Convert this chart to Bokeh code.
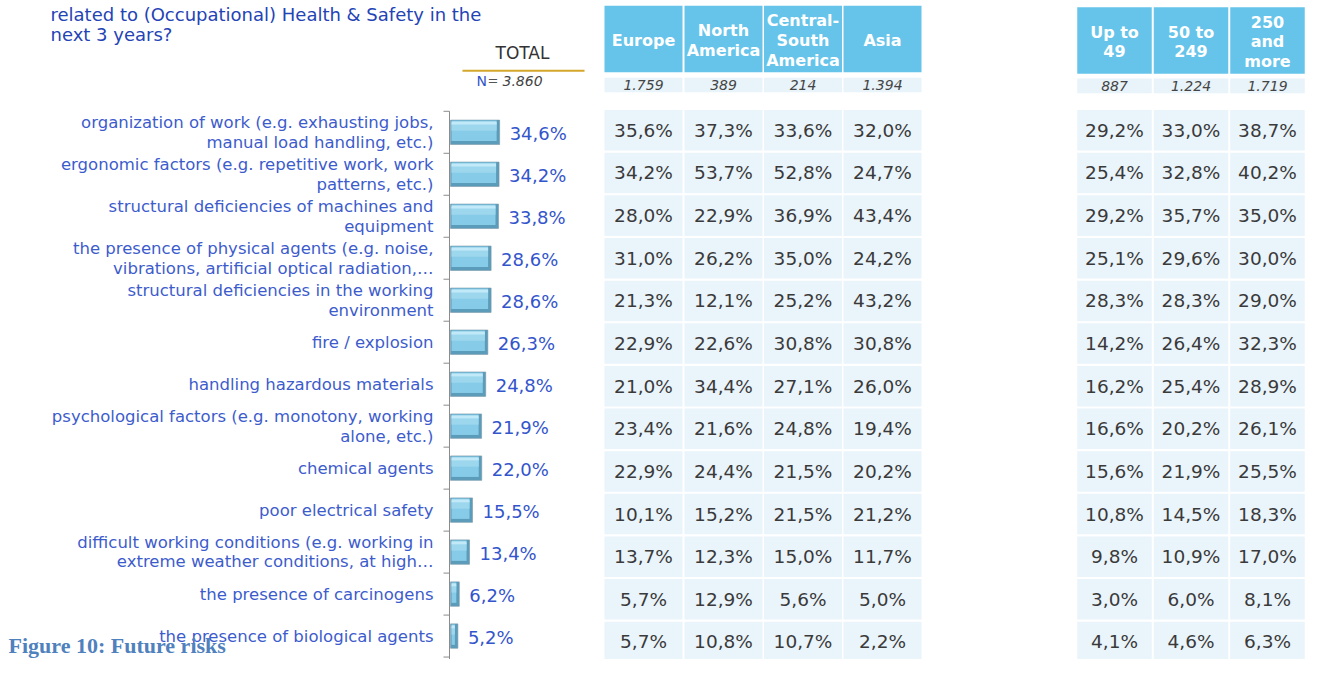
import numpy as np
from bokeh.plotting import figure
from bokeh.models import Range1d, ColumnDataSource
from bokeh.embed import file_html
from bokeh.resources import INLINE
from bokeh.core.properties import value

# ---------------- data ----------------
categories = [
    "organization of work (e.g. exhausting jobs,\nmanual load handling, etc.)",
    "ergonomic factors (e.g. repetitive work, work\npatterns, etc.)",
    "structural deficiencies of machines and\nequipment",
    "the presence of physical agents (e.g. noise,\nvibrations, artificial optical radiation,\u2026",
    "structural deficiencies in the working\nenvironment",
    "fire / explosion",
    "handling hazardous materials",
    "psychological factors (e.g. monotony, working\nalone, etc.)",
    "chemical agents",
    "poor electrical safety",
    "difficult working conditions (e.g. working in\nextreme weather conditions, at high\u2026",
    "the presence of carcinogens",
    "the presence of biological agents",
]
total = [34.6, 34.2, 33.8, 28.6, 28.6, 26.3, 24.8, 21.9, 22.0, 15.5, 13.4, 6.2, 5.2]

europe = [35.6, 34.2, 28.0, 31.0, 21.3, 22.9, 21.0, 23.4, 22.9, 10.1, 13.7, 5.7, 5.7]
north_america = [37.3, 53.7, 22.9, 26.2, 12.1, 22.6, 34.4, 21.6, 24.4, 15.2, 12.3, 12.9, 10.8]
central_south_america = [33.6, 52.8, 36.9, 35.0, 25.2, 30.8, 27.1, 24.8, 21.5, 21.5, 15.0, 5.6, 10.7]
asia = [32.0, 24.7, 43.4, 24.2, 43.2, 30.8, 26.0, 19.4, 20.2, 21.2, 11.7, 5.0, 2.2]

up_to_49 = [29.2, 25.4, 29.2, 25.1, 28.3, 14.2, 16.2, 16.6, 15.6, 10.8, 9.8, 3.0, 4.1]
from_50_to_249 = [33.0, 32.8, 35.7, 29.6, 28.3, 26.4, 25.4, 20.2, 21.9, 14.5, 10.9, 6.0, 4.6]
from_250 = [38.7, 40.2, 35.0, 30.0, 29.0, 32.3, 28.9, 26.1, 25.5, 18.3, 17.0, 8.1, 6.3]

region_headers = ["Europe", "North\nAmerica", "Central-\nSouth\nAmerica", "Asia"]
region_n = ["1.759", "389", "214", "1.394"]
size_headers = ["Up to\n49", "50 to\n249", "250\nand\nmore"]
size_n = ["887", "1.224", "1.719"]
total_n = "3.860"

title_text = "related to (Occupational) Health & Safety in the\nnext 3 years?"
caption_text = "Figure 10: Future risks"


def pct(v):
    return f"{v:.1f}%".replace(".", ",")


# ---------------- layout ----------------
W, H = 1306, 659
FONT = value("DejaVu Sans")
HEAD_BLUE = "#66c4ea"
CELL_BLUE = "#eaf4fb"
TXT_DARK = "#3a3a3a"
LBL_BLUE = "#3d5ccc"
EM = 1.164  # DejaVu line box per em

p = figure(width=W, height=H, x_range=Range1d(0, W), y_range=Range1d(675, 0),
           output_backend="svg", toolbar_location=None, min_border=0,
           x_axis_type=None, y_axis_type=None)
p.grid.visible = False
p.outline_line_color = None
p.background_fill_color = "white"

n = len(categories)
idx = np.arange(n)

# --- bar chart ---
bar_left = 450.0
k = 1.42
bar_pitch = 43.0
bar_y = 135.0 + bar_pitch * idx
tot = np.array(total)
bar_right = bar_left + k * tot

bars = ColumnDataSource(dict(y=bar_y, right=bar_right))
p.hbar(y="y", left=bar_left, right="right", height=25, source=bars,
       fill_color="#5b9cbb", line_color="#7a98a8", line_width=0.6)
face = ColumnDataSource(dict(y=bar_y - 1.5, right=bar_right - 3.0))
p.hbar(y="y", left=bar_left + 1.0, right="right", height=21, source=face,
       fill_color="#86cbe7", line_color=None)
mid = ColumnDataSource(dict(y=bar_y - 5.5, right=bar_right - 3.0))
p.hbar(y="y", left=bar_left + 1.0, right="right", height=8, source=mid,
       fill_color="#9dd7ee", line_color=None)
hl = ColumnDataSource(dict(y=bar_y - 9.5, right=bar_right - 3.0))
p.hbar(y="y", left=bar_left + 1.0, right="right", height=3, source=hl,
       fill_color="#c2e9f7", line_color=None)

# axis line with ticks between categories
tick_y = bar_y[0] - bar_pitch / 2 + bar_pitch * np.arange(n + 1)
p.segment(x0=[bar_left - 1], y0=[tick_y[0]], x1=[bar_left - 1], y1=[690],
          line_color="#8c8c8c", line_width=1)
p.segment(x0=bar_left - 7, y0=tick_y, x1=bar_left - 1, y1=tick_y,
          line_color="#8c8c8c", line_width=1)

# value labels
vl = ColumnDataSource(dict(x=bar_right + 10, y=bar_y + 1.5, t=[pct(v) for v in total]))
p.text(x="x", y="y", text="t", source=vl, text_font=FONT, text_font_size="18px",
       text_align="left", text_baseline="middle", text_color="#3355cc")

# category labels
cl = ColumnDataSource(dict(y=bar_y, t=categories))
p.text(x=433, y="y", text="t", source=cl, text_font=FONT, text_font_size="16.5px",
       text_align="right", text_baseline="middle", text_color=LBL_BLUE,
       text_line_height=20 / (16.5 * EM))

# --- tables ---
row_pitch = 43.67
row_y = 133.0 + row_pitch * idx


def draw_table(xs, cw, cols, headers, ns, head_y, head_h, n_y):
    cx, cy, ct = [], [], []
    for j, col in enumerate(cols):
        for i, v in enumerate(col):
            cx.append(xs[j]); cy.append(row_y[i]); ct.append(pct(v))
    src = ColumnDataSource(dict(x=cx, y=cy, t=ct))
    p.rect(x="x", y="y", width=cw, height=41.5, source=src,
           fill_color=CELL_BLUE, line_color=None)
    p.text(x="x", y="y", text="t", source=src, text_font=FONT, text_font_size="18.5px",
           text_align="center", text_baseline="middle", text_color=TXT_DARK)
    hsrc = ColumnDataSource(dict(x=xs, t=headers, nt=ns))
    p.rect(x="x", y=head_y, width=cw, height=head_h, source=hsrc,
           fill_color=HEAD_BLUE, line_color=None)
    p.text(x="x", y=head_y + 1.5, text="t", source=hsrc, text_font=FONT,
           text_font_size="16px", text_font_style="bold", text_align="center",
           text_baseline="middle", text_color="white",
           text_line_height=19.5 / (16 * EM))
    p.rect(x="x", y=n_y, width=cw, height=15, source=hsrc,
           fill_color="#e8f3fa", line_color=None)
    p.text(x="x", y=n_y, text="nt", source=hsrc, text_font=FONT,
           text_font_size="14px", text_font_style="italic", text_align="center",
           text_baseline="middle", text_color="#444444")


region_x = [643.0, 723.0, 802.5, 882.0]
draw_table(region_x, 78, [europe, north_america, central_south_america, asia],
           region_headers, region_n, 39.5, 68, 86.5)
size_x = [1114.0, 1190.5, 1267.0]
draw_table(size_x, 74.5, [up_to_49, from_50_to_249, from_250],
           size_headers, size_n, 41.0, 68, 87.5)

# --- titles / annotations ---
p.text(x=[50], y=[4], text=[title_text], text_font=FONT, text_font_size="18px",
       text_align="left", text_baseline="top", text_color="#2443b5",
       text_line_height=20 / (18 * EM))
p.text(x=[522], y=[54], text=["TOTAL"], text_font=FONT, text_font_size="17px",
       text_align="center", text_baseline="middle", text_color="#333333")
p.segment(x0=[462], y0=[72], x1=[584], y1=[72], line_color="#d4a62a", line_width=2)
p.text(x=[476], y=[82], text=["N"], text_font=FONT, text_font_size="14px",
       text_align="left", text_baseline="middle", text_color="#3355cc")
p.text(x=[487], y=[82], text=["="], text_font=FONT, text_font_size="13px",
       text_align="left", text_baseline="middle", text_color="#555555")
p.text(x=[502], y=[82], text=[total_n], text_font=FONT, text_font_size="14px",
       text_font_style="italic", text_align="left", text_baseline="middle",
       text_color="#444444")

p.text(x=[8], y=[661], text=[caption_text], text_font=value("Liberation Serif"),
       text_font_size="22px", text_font_style="bold", text_align="left",
       text_baseline="middle", text_color="#4f81bd")

open("out.html", "w").write(file_html(p, INLINE))
